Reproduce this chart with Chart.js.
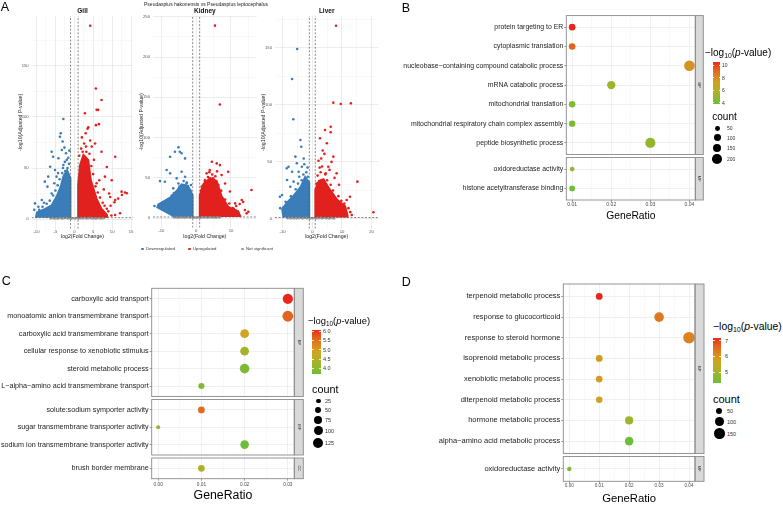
<!DOCTYPE html>
<html><head><meta charset="utf-8">
<script src="https://cdn.jsdelivr.net/npm/chart.js@4/dist/chart.umd.min.js"></script>
<style>
html,body{margin:0;padding:0;background:#fff;}
body{width:783px;height:507px;position:relative;overflow:hidden;font-family:"Liberation Sans",Arial,Helvetica,sans-serif;}
canvas{position:absolute;}
.t{position:absolute;white-space:nowrap;color:#000;}
.t sub{font-size:68%;vertical-align:-0.3em;line-height:0;}
.dot{position:absolute;border-radius:50%;}
</style></head><body>
<script>
// ================= DATA =================
// Panel A: volcano plots (log2 fold change, -log10 adjusted p)
const volcanoTitles = ["Gill", "Kidney", "Liver"];
const superTitle = "Pseudaspius hakonensis vs Pseudaspius leptocephalus";
const legendLabels = ["Downregulated", "Upregulated", "Not significant"];
const fcThreshold = [-1, 1];
const pThreshold = 1.3;

const gillXMajor = [-10, -5, 0, 5, 10, 15], gillXMinor = [-7.5, -2.5, 2.5, 7.5, 12.5];
const gillYMajor = [0, 50, 100, 150], gillYMinor = [25, 75, 125, 175];
const kidXMajor = [-10, 0, 10], kidXMinor = [-5, 5, 15];
const kidYMajor = [0, 50, 100, 150, 200, 250], kidYMinor = [25, 75, 125, 175, 225];
const livXMajor = [-10, 0, 10, 20], livXMinor = [-5, 5, 15];
const livYMajor = [0, 50, 100, 150], livYMinor = [25, 75, 125, 175];

// dense clouds (outline of the solid mass of points)
const gillDownArea = [[-1,1.3],[-1,40],[-1.9,48],[-2.9,42],[-3.6,32],[-4.7,22],[-6,13.5],[-7.75,10],[-9.9,6.5],[-10.2,1.3]];
const gillUpArea = [[1,1.3],[1,34],[1.5,53],[2.4,63],[3.7,58],[4.4,38],[5.9,20],[7.2,10],[8.6,4.5],[8.8,1.3]];
const kidDownArea = [[-1,1.3],[-1,28],[-2.3,40],[-4.2,42],[-5.6,34],[-7.5,25.5],[-10.9,17],[-11.2,13.2],[-6.1,1.3]];
const kidUpArea = [[1,1.3],[1,28],[2,42],[4,50],[5.9,46],[7.3,27.5],[9.2,14],[12.1,8.5],[12.8,1.3]];
const livDownArea = [[-1,1.3],[-1,32],[-2.4,37],[-4,28],[-6.3,20.5],[-8.5,14.5],[-10.2,8.5],[-9.8,2],[-9.8,1.3]];
const livUpArea = [[1,1.3],[1,26],[2.2,33.5],[3.8,35],[5.5,27.5],[8.3,17.2],[11.1,11.2],[11.9,3.5],[11.9,1.3]];

// scattered significant genes
const gillDown = [[-2.9,98],[-3.6,84],[-3.8,80.7],[-3.1,76],[-3.3,67.6],[-6,66],[-5.6,61],[-4.2,59.5],[-6.4,51.3],[-5.1,48],[-7.8,36.6],[-6.9,41.5],[-4.7,41.5],[-2.9,53],[-2.2,64.4],[-10.4,15.3],[-9.5,12],[-8.6,18.6],[-10.6,9],[-7.1,31.7],[-2.5,56],[-1.6,60],[-5.3,35],
  [-1.8,50],[-2.4,47],[-3.2,45],[-3.9,39],[-4.4,33],[-5.0,28],[-5.6,23],[-6.5,18],[-7.3,15],[-8.4,12],[-9.3,9],[-1.4,54],[-2.0,58],[-3.0,50],[-4.3,45],[-2.6,70],[-1.3,67],[-6.0,25],[-8.0,16]];
const gillUp = [[4.2,189.5],[5.7,128],[7.2,116.7],[5.9,107],[2.8,103.6],[5.7,92],[6.5,93],[3.5,88.5],[6.3,107],[3.7,90],[4.2,77],[5.5,74],[10.8,61],[7.2,66],[8.6,51],[9.9,38],[12.5,26.8],[13.9,25.2],[9.5,21.6],[10.8,18.6],[12.1,5.6],[10.8,4],[5.9,35],[8.1,41.5],[6.5,5],[7.5,8],[8.6,10],[9.6,13],[10.6,16.5],[11.6,20],[12.6,23.5],[13.4,26],[3.1,71],[2.2,66],
  [1.3,62],[1.8,69],[2.6,74],[3.2,66],[4.0,64],[4.5,52],[5.0,44],[5.6,32],[6.2,26],[6.8,21],[7.5,16],[8.0,13],[9.0,7.5],[9.8,3.5],[2.0,80],[3.0,84],[4.6,71],[7.8,29],[9.2,25],[6.6,38],[5.2,58]];
const kidDown = [[-5.1,87.8],[-6.1,82.4],[-4.7,82.4],[-4.2,80.4],[-7.5,76.2],[-3.2,74.1],[-8.5,59.6],[-7.5,55.5],[-9,45],[-10.4,45.9],[-5.1,43],[-5.6,49.3],[-4.2,57.6],[-6.6,36.9],[-3.2,51.3],[-13.1,46],[-2.7,44],
  [-1.6,34],[-2.8,43],[-3.6,46],[-4.8,39],[-6.4,31],[-8.5,22],[-9.8,19],[-12.0,15],[-1.5,41],[-3.0,37],[-7.0,28]];
const kidUp = [[5.4,239],[6.8,141],[4.5,70],[5.9,67.9],[6.8,65.8],[3.9,59.6],[3,55.5],[7.3,53.4],[4.9,49.3],[9.2,57.6],[15.9,34.8],[13.1,22.4],[11.2,18.2],[14,9.9],[15,7.9],[8.3,43],[2.5,47.2],[5.4,39],[9.7,32.9],[9.5,10],[10.5,12.5],[11.5,15],[12.5,17.5],[13.5,20],[14.5,5.8],
  [1.4,34],[2.5,45],[3.4,51],[4.6,54],[5.5,52],[6.4,41],[7.2,34],[8.3,23],[9.5,18],[10.8,11.5],[11.7,6],[1.6,39],[3.8,57],[6.0,58]];
const livDown = [[-5.1,148.9],[-6.8,122.6],[-6.4,87.3],[-4,69.2],[-3.7,63.3],[-5.7,54.6],[-5.2,48.8],[-3.5,45.8],[-6.8,41.4],[-4.6,41.4],[-8,45.8],[-10.2,21],[-8.5,34.2],[-6.3,32.7],[-2.9,53],[-7.4,28.3],[-10.9,19.5],[-9.8,10],[-8.6,44.4],
  [-1.5,37],[-2.0,41],[-3.0,39],[-3.6,34],[-4.8,31],[-5.6,26],[-7.2,20],[-9.0,15],[-10.8,9.5],[-1.6,45],[-2.7,48],[-4.4,37]];
const livUp = [[8,169.3],[7.1,101.9],[9.6,100.7],[13,101.3],[4.3,78],[6.2,80.8],[6.2,76],[2.6,70.7],[4.9,66.3],[7.1,54.6],[4.1,57],[15.2,32.7],[20.6,5.9],[12.7,19.5],[11.6,16.6],[10.5,7.9],[13.3,3.5],[5.4,45.8],[8.2,40],[3.5,60],[6.5,50],[2.5,45],[9,30],[4.5,40],
  [1.4,31],[1.8,38],[2.8,41],[3.3,46],[4.4,39],[5.0,34],[6.2,30],[7.0,25],[8.8,20],[9.8,16],[10.8,13.5],[12.2,9.5],[12.8,6],[2.1,51],[3.0,53],[5.8,43],[7.5,36]];

// not significant genes (band near the bottom)
const gillNS = [[-6.3,0.6],[-5.8,0.9],[-5.3,0.4],[-4.8,0.8],[-4.3,0.5],[-3.8,1.0],[-3.3,0.4],[-2.8,0.7],[-2.3,1.1],[-1.8,0.5],[-1.3,0.8],[-0.8,0.3],[-0.3,0.9],[0.2,0.5],[0.7,1.0],[1.2,0.4],[1.7,0.8],[2.2,0.6],[2.7,1.1],[3.2,0.4],[3.7,0.7],[4.2,1.0],[4.7,0.5],[5.2,0.8],[5.7,0.3],[6.2,0.9],[6.7,0.6],[7.2,0.4],[7.8,0.8]];
const kidNS = [[-6.3,0.5],[-5.8,0.9],[-5.3,0.4],[-4.8,0.8],[-4.3,0.6],[-3.8,1.0],[-3.3,0.4],[-2.8,0.8],[-2.3,1.1],[-1.8,0.5],[-1.3,0.9],[-0.8,0.3],[-0.3,0.8],[0.2,0.5],[0.7,1.0],[1.2,0.4],[1.7,0.9],[2.2,0.6],[2.7,1.1],[3.2,0.4],[3.7,0.8],[4.2,1.0],[4.7,0.5],[5.2,0.8],[5.7,0.3],[6.2,0.9],[6.8,0.6]];
const livNS = [[-8.4,0.6],[-7.9,0.9],[-7.3,0.4],[-6.8,0.8],[-6.3,0.5],[-5.8,0.9],[-5.3,0.4],[-4.8,0.8],[-4.3,0.6],[-3.8,1.0],[-3.3,0.4],[-2.8,0.8],[-2.3,1.1],[-1.8,0.5],[-1.3,0.9],[-0.8,0.3],[-0.3,0.8],[0.2,0.5],[0.7,1.0],[1.2,0.4],[1.7,0.9],[2.2,0.6],[2.7,1.1],[3.2,0.4],[3.7,0.8],[4.2,1.0],[4.7,0.5],[5.2,0.8],[5.7,0.3],[6.2,0.9],[6.8,0.6],[7.4,0.4]];

// Panel B
const bTermsBP = ["protein targeting to ER","cytoplasmic translation","nucleobase\u2212containing compound catabolic process","mRNA catabolic process","mitochondrial translation","mitochondrial respiratory chain complex assembly","peptide biosynthetic process"];
const bRatioBP = [0.01,0.01,0.04,0.02,0.01,0.01,0.03];
const bLogPBP = [10.53,9.3,7.8,5.2,4.3,4.2,4.9];
const bCountBP = [95,95,245,150,92,90,225];
const bTermsMF = ["oxidoreductase activity","histone acetyltransferase binding"];
const bRatioMF = [0.01,0.01];
const bLogPMF = [4.7,3.75];
const bCountMF = [48,70];
const bColorTicks = [4,6,8,10];
const bCountBreaks = [50,100,150,200];

// Panel C
const cTermsBP = ["carboxylic acid transport","monoatomic anion transmembrane transport","carboxylic acid transmembrane transport","cellular response to xenobiotic stimulus","steroid metabolic process","L\u2212alpha\u2212amino acid transmembrane transport"];
const cRatioBP = [0.03,0.03,0.02,0.02,0.02,0.01];
const cLogPBP = [6.05,5.6,4.85,4.3,3.85,3.85];
const cCountBP = [129,145,95,95,114,46];
const cTermsMF = ["solute:sodium symporter activity","sugar transmembrane transporter activity","sodium ion transmembrane transporter activity"];
const cRatioMF = [0.01,0.0,0.02];
const cLogPMF = [5.55,4.2,3.68];
const cCountMF = [56,21,91];
const cTermsCC = ["brush border membrane"];
const cRatioCC = [0.01];
const cLogPCC = [4.4];
const cCountCC = [56];
const cColorTicks = [4.0,4.5,5.0,5.5,6.0];
const cCountBreaks = [25,50,75,100,125];

// Panel D
const dTermsBP = ["terpenoid metabolic process","response to glucocorticoid","response to steroid hormone","isoprenoid metabolic process","xenobiotic metabolic process","diterpenoid metabolic process","hormone metabolic process","alpha\u2212amino acid metabolic process"];
const dRatioBP = [0.01,0.03,0.04,0.01,0.01,0.01,0.02,0.02];
const dLogPBP = [7.19,6.4,6.25,5.9,5.85,5.8,4.95,4.3];
const dCountBP = [62,125,184,62,62,58,91,100];
const dTermsMF = ["oxidoreductase activity"];
const dRatioMF = [0.0];
const dLogPMF = [4.6];
const dCountMF = [27];
const dColorTicks = [5,6,7];
const dCountBreaks = [50,100,150];

// ================= STYLE / HELPERS =================
const FONT = '"Liberation Sans", Arial, Helvetica, sans-serif';
Chart.defaults.font.family = FONT;
Chart.defaults.animation = false;
const BLUE = '#3A7DB9', RED = '#E2211F', GREY = '#9A9A9A';
const GRAD = ['#6CBE36', '#CFA420', '#E8261E']; // low, mid, high

function s2l(c){c/=255;return c<=0.04045?c/12.92:Math.pow((c+0.055)/1.055,2.4);}
function l2s(c){c=c<=0.0031308?12.92*c:1.055*Math.pow(c,1/2.4)-0.055;return Math.round(Math.max(0,Math.min(1,c))*255);}
function hex2lab(h){const r=s2l(parseInt(h.substr(1,2),16)),g=s2l(parseInt(h.substr(3,2),16)),b=s2l(parseInt(h.substr(5,2),16));
 const X=(0.4124*r+0.3576*g+0.1805*b)/0.95047,Y=0.2126*r+0.7152*g+0.0722*b,Z=(0.0193*r+0.1192*g+0.9505*b)/1.08883;
 const f=t=>t>0.008856?Math.cbrt(t):7.787*t+16/116;const fx=f(X),fy=f(Y),fz=f(Z);return [116*fy-16,500*(fx-fy),200*(fy-fz)];}
function lab2rgb(L,a,b){const fy=(L+16)/116,fx=fy+a/500,fz=fy-b/200;const fi=t=>t*t*t>0.008856?t*t*t:(t-16/116)/7.787;
 const X=0.95047*fi(fx),Y=fi(fy),Z=1.08883*fi(fz);
 return 'rgb('+l2s(3.2406*X-1.5372*Y-0.4986*Z)+','+l2s(-0.9689*X+1.8758*Y+0.0415*Z)+','+l2s(0.0557*X-0.2040*Y+1.0570*Z)+')';}
const GLAB = GRAD.map(hex2lab);
function colorAt(t){t=Math.max(0,Math.min(1,t));const seg=t<0.5?0:1;const u=(t-seg*0.5)*2;const A=GLAB[seg],B=GLAB[seg+1];
  return lab2rgb(A[0]+(B[0]-A[0])*u,A[1]+(B[1]-A[1])*u,A[2]+(B[2]-A[2])*u);}

function txt(x,y,html,size,align,extra){
  const d=document.createElement('div');d.className='t';
  const k=size<9?0.5:1, fs=size/k;
  d.style.fontSize=fs+'px';d.style.lineHeight=fs+'px';d.style.left=x+'px';d.style.top=y+'px';
  let org='0 50%',tr='translate(0,-50%) scale('+k+')';
  if(align==='c'){org='50% 50%';tr='translate(-50%,-50%) scale('+k+')';}
  if(align==='r'){org='100% 50%';tr='translate(-100%,-50%) scale('+k+')';}
  d.style.transformOrigin=org;d.style.transform=tr;
  if(extra)Object.assign(d.style,extra);
  d.innerHTML=html;document.body.appendChild(d);return d;
}
function dot(cx,cy,r,color){const d=document.createElement('div');d.className='dot';
  d.style.left=(cx-r)+'px';d.style.top=(cy-r)+'px';d.style.width=(2*r)+'px';d.style.height=(2*r)+'px';d.style.background=color;document.body.appendChild(d);}
function mkCanvas(l,t,w,h){const c=document.createElement('canvas');c.width=w;c.height=h;
  c.style.left=l+'px';c.style.top=t+'px';c.style.width=w+'px';c.style.height=h+'px';document.body.appendChild(c);return c;}
const pts=a=>a.map(p=>({x:p[0],y:p[1]}));

// ================= PANEL A =================
function volcano(v){
  const cL=Math.floor(v.plotL-24), cT=4, cB=242, cR=Math.ceil(v.plotR+2);
  const cv=mkCanvas(cL,cT,cR-cL,cB-cT);
  const yW=v.plotL-cL, xH=cB-v.plotB, padR=cR-v.plotR;
  const isMajX=val=>v.xMaj.includes(val), isMajY=val=>v.yMaj.includes(val);
  const line=(data)=>({data, showLine:true, pointRadius:0, borderColor:'#555', borderWidth:0.7, borderDash:[2,1.6], fill:false, order:0});
  new Chart(cv,{type:'scatter',
    data:{datasets:[
      line([{x:fcThreshold[0],y:v.yr[0]},{x:fcThreshold[0],y:v.yr[1]}]),
      line([{x:fcThreshold[1],y:v.yr[0]},{x:fcThreshold[1],y:v.yr[1]}]),
      line([{x:v.xr[0],y:pThreshold},{x:v.xr[1],y:pThreshold}]),
      {data:pts(v.up),pointRadius:1.3,backgroundColor:RED,borderWidth:0,order:1},
      {data:pts(v.down),pointRadius:1.3,backgroundColor:BLUE,borderWidth:0,order:2},
      {data:pts(v.ns),pointRadius:1.2,backgroundColor:GREY,borderWidth:0,order:3},
      {data:pts(v.upArea),showLine:true,fill:'shape',backgroundColor:RED,borderColor:RED,borderWidth:1.8,pointRadius:0,tension:0,order:4},
      {data:pts(v.downArea),showLine:true,fill:'shape',backgroundColor:BLUE,borderColor:BLUE,borderWidth:1.8,pointRadius:0,tension:0,order:4}
    ]},
    options:{responsive:false,animation:false,events:[],
      layout:{padding:{left:0,top:0,right:padR,bottom:0},autoPadding:false},
      plugins:{legend:{display:false},tooltip:{enabled:false},
        title:{display:true,text:v.title,fullSize:false,color:'#111',font:{size:6.5,weight:'bold'},padding:{top:3.1,bottom:1.1}}},
      scales:{
        x:{type:'linear',min:v.xr[0],max:v.xr[1],
          afterBuildTicks(s){s.ticks=v.xMaj.concat(v.xMin).sort((a,b)=>a-b).map(x=>({value:x}));},
          afterFit(s){s.height=xH;s.paddingLeft=0;s.paddingRight=0;},
          ticks:{autoSkip:false,maxRotation:0,minRotation:0,padding:0.6,color:'#555',font:{size:4.2},callback:(val)=>isMajX(val)?String(val):''},
          grid:{drawTicks:false,color:c=>c.tick&&isMajX(c.tick.value)?'#E4E4E4':'#F1F1F1',lineWidth:c=>c.tick&&isMajX(c.tick.value)?0.7:0.5},
          border:{display:false},
          title:{display:true,text:'log2(Fold Change)',color:'#222',font:{size:5.2},padding:{top:0,bottom:1.9}}},
        y:{type:'linear',min:v.yr[0],max:v.yr[1],
          afterBuildTicks(s){s.ticks=v.yMaj.concat(v.yMin).sort((a,b)=>a-b).filter(y=>y<=v.yr[1]).map(y=>({value:y}));},
          afterFit(s){s.width=yW;s.paddingTop=0;s.paddingBottom=0;},
          ticks:{autoSkip:false,padding:3,color:'#555',font:{size:4.2},callback:(val)=>isMajY(val)?String(val):''},
          grid:{drawTicks:false,color:c=>c.tick&&isMajY(c.tick.value)?'#E4E4E4':'#F1F1F1',lineWidth:c=>c.tick&&isMajY(c.tick.value)?0.7:0.5},
          border:{display:false},
          title:{display:true,text:'-log10(Adjusted P-value)',color:'#222',font:{size:5.2},padding:{top:(v.plotL-11)-cL-3.12,bottom:0}}}
      }}});
}
volcano({title:volcanoTitles[0],plotL:31.7,plotR:133.3,plotB:228.7,xr:[-11.27,15.6],yr:[-9.5,199],xMaj:gillXMajor,xMin:gillXMinor,yMaj:gillYMajor,yMin:gillYMinor,down:gillDown,up:gillUp,downArea:gillDownArea,upArea:gillUpArea,ns:gillNS});
volcano({title:volcanoTitles[1],plotL:153,plotR:256.7,plotB:227.7,xr:[-12.41,17.39],yr:[-12,251],xMaj:kidXMajor,xMin:kidXMinor,yMaj:kidYMajor,yMin:kidYMinor,down:kidDown,up:kidUp,downArea:kidDownArea,upArea:kidUpArea,ns:kidNS});
volcano({title:volcanoTitles[2],plotL:275,plotR:378.3,plotB:228.7,xr:[-12.57,22.25],yr:[-8.5,177.8],xMaj:livXMajor,xMin:livXMinor,yMaj:livYMajor,yMin:livYMinor,down:livDown,up:livUp,downArea:livDownArea,upArea:livUpArea,ns:livNS});

txt(205.5,3.8,superTitle,5,'c',{color:'#222'});
[[142.5,BLUE],[189.5,RED],[242.5,GREY]].forEach((m,i)=>{dot(m[0],249,1.3,m[1]);txt(m[0]+3,249,legendLabels[i],4.3,'l',{color:'#333'});});

// ================= PANELS B, C, D =================
function stripPlugin(label,stripW){return {id:'strip',afterDraw(chart){
  const ctx=chart.ctx,a=chart.chartArea;ctx.save();
  ctx.fillStyle='#D9D9D9';ctx.fillRect(a.right,a.top,stripW,a.bottom-a.top);
  ctx.strokeStyle='#8A8A8A';ctx.lineWidth=0.9;ctx.strokeRect(a.right,a.top,stripW,a.bottom-a.top);
  ctx.strokeRect(a.left,a.top,a.right-a.left,a.bottom-a.top);
  ctx.translate(a.right+stripW/2,(a.top+a.bottom)/2);ctx.rotate(Math.PI/2);
  ctx.fillStyle='#333';ctx.font='4px '+FONT;ctx.textAlign='center';ctx.textBaseline='middle';ctx.fillText(label,0,0);
  ctx.restore();}};}

function facet(p,f,isLast){
  const cL=Math.floor(p.x0), cT=Math.floor(f.top)-1, cR=Math.ceil(p.plotR+p.stripW+3);
  const cB=isLast?p.canvasBottom:Math.ceil(f.bottom)+1;
  const cv=mkCanvas(cL,cT,cR-cL,cB-cT);
  const yW=p.plotL-cL, padTop=f.top-cT, padR=cR-p.plotR, xH=cB-f.bottom;
  const n=f.cats.length;
  const data=f.ratio.map((x,i)=>({x,y:i,r:p.k*Math.sqrt(f.count[i])}));
  const cols=f.logp.map(v=>colorAt((v-p.cmin)/(p.cmax-p.cmin)));
  const isMaj=val=>p.xMaj.includes(val);
  new Chart(cv,{type:'bubble',
    data:{datasets:[{data,backgroundColor:cols,borderWidth:0,hoverRadius:0}]},
    options:{responsive:false,animation:false,events:[],
      layout:{padding:{left:0,top:padTop,right:padR,bottom:0},autoPadding:false},
      plugins:{legend:{display:false},tooltip:{enabled:false}},
      scales:{
        x:{type:'linear',min:p.xmin,max:p.xmax,
          afterBuildTicks(s){s.ticks=p.xMaj.concat(p.xMin).sort((a,b)=>a-b).map(x=>({value:x}));},
          afterFit(s){s.height=xH;s.paddingLeft=0;s.paddingRight=0;},
          ticks:{display:isLast,autoSkip:false,maxRotation:0,minRotation:0,padding:p.xPad,color:'#4d4d4d',font:{size:p.xFont},callback:(val)=>isMaj(val)?val.toFixed(2):''},
          grid:{drawTicks:isLast,tickLength:2,tickWidth:0.6,tickColor:c=>c.tick&&isMaj(c.tick.value)?'#555':'rgba(0,0,0,0)',
            color:c=>c.tick&&isMaj(c.tick.value)?'#EAEAEA':'#F3F3F3',lineWidth:c=>c.tick&&isMaj(c.tick.value)?0.7:0.5},
          border:{display:false},
          title:{display:isLast,text:'GeneRatio',color:'#000',font:{size:p.titleFont},padding:{top:0,bottom:p.titlePadB}}},
        y:{type:'linear',min:-0.6,max:n-1+0.6,reverse:true,
          afterBuildTicks(s){s.ticks=f.cats.map((c,i)=>({value:i}));},
          afterFit(s){s.width=yW;s.paddingTop=0;s.paddingBottom=0;},
          ticks:{autoSkip:false,padding:1,color:'#222',font:{size:p.yFont},callback:(val)=>f.cats[val]},
          grid:{color:'#EAEAEA',lineWidth:0.7,tickLength:2,tickWidth:0.6,tickColor:'#555'},
          border:{display:false}}
      }},
    plugins:[stripPlugin(f.strip,p.stripW)]});
}

function legend(p,L){
  txt(L.titleX,L.titleY,'\u2212log<sub>10</sub>(<i>p</i>-value)',L.titleSize,'l');
  const bar=document.createElement('div');bar.style.position='absolute';
  bar.style.left=L.barX+'px';bar.style.top=L.barT+'px';bar.style.width=L.barW+'px';bar.style.height=(L.barB-L.barT)+'px';
  const stops=[];for(let i=0;i<=20;i++)stops.push(colorAt(i/20)+' '+(i*5)+'%');
  bar.style.background='linear-gradient(to top,'+stops.join(',')+')';document.body.appendChild(bar);
  L.ticks.forEach(v=>{const y=L.barB-(v-p.cmin)/(p.cmax-p.cmin)*(L.barB-L.barT);
    [0,L.barW-1.3].forEach(dx=>{const tk=document.createElement('div');tk.style.cssText='position:absolute;height:0.5px;width:1.3px;background:rgba(255,255,255,0.8);left:'+(L.barX+dx)+'px;top:'+(y-0.25)+'px';document.body.appendChild(tk);});
    txt(L.tickX,y,L.fmt(v),L.tickSize,'l',{color:'#333'});});
  txt(L.countX,L.countY,'count',L.countSize,'l');
  L.breaks.forEach((b,i)=>{dot(L.dotX,L.dotY[i],p.k*Math.sqrt(b),'#000');txt(L.labX,L.dotY[i],String(b),L.tickSize,'l',{color:'#333'});});
}
function panel(p,facets,L){
  const all=facets.reduce((a,f)=>a.concat(f.logp),[]);p.cmin=Math.min(...all);p.cmax=Math.max(...all);
  facets.forEach((f,i)=>facet(p,f,i===facets.length-1));legend(p,L);
}

// Panel B
panel({x0:400,plotL:566.3,plotR:695.3,stripW:8,xmin:0.0085,xmax:0.0415,xMaj:[0.01,0.02,0.03,0.04],xMin:[0.015,0.025,0.035],
  yFont:6.9,xFont:5.1,titleFont:10.3,xPad:0,titlePadB:1.8,canvasBottom:224,k:0.34},
  [{cats:bTermsBP,ratio:bRatioBP,logp:bLogPBP,count:bCountBP,strip:'BP',top:15.6,bottom:154.5},
   {cats:bTermsMF,ratio:bRatioMF,logp:bLogPMF,count:bCountMF,strip:'MF',top:157.5,bottom:200}],
  {titleX:705,titleY:53,titleSize:10,barX:712.7,barT:61.7,barB:104.3,barW:7.3,ticks:bColorTicks,fmt:v=>String(v),tickX:722,tickSize:5,
   countX:712.3,countY:117,countSize:10,breaks:bCountBreaks,dotX:717.3,dotY:[128.3,137.7,148.3,159.3],labX:726.7});

// Panel C
panel({x0:0,plotL:151.7,plotR:294.3,stripW:9,xmin:-0.0015,xmax:0.0315,xMaj:[0,0.01,0.02,0.03],xMin:[0.005,0.015,0.025],
  yFont:7.2,xFont:4.8,titleFont:12.3,xPad:0.9,titlePadB:2.9,canvasBottom:506,k:0.45},
  [{cats:cTermsBP,ratio:cRatioBP,logp:cLogPBP,count:cCountBP,strip:'BP',top:288.3,bottom:396.5},
   {cats:cTermsMF,ratio:cRatioMF,logp:cLogPMF,count:cCountMF,strip:'MF',top:399.5,bottom:455},
   {cats:cTermsCC,ratio:cRatioCC,logp:cLogPCC,count:cCountCC,strip:'CC',top:458,bottom:478.7}],
  {titleX:308,titleY:321,titleSize:9.4,barX:312.3,barT:330,barB:374.3,barW:8.4,ticks:cColorTicks,fmt:v=>v.toFixed(1),tickX:323,tickSize:5.5,
   countX:312,countY:389.3,countSize:10.8,breaks:cCountBreaks,dotX:318.3,dotY:[401,410,419.7,430.7,443.3],labX:324.5});

// Panel D
panel({x0:400,plotL:563.3,plotR:695,stripW:9,xmin:-0.002,xmax:0.042,xMaj:[0,0.01,0.02,0.03,0.04],xMin:[0.005,0.015,0.025,0.035],
  yFont:7.5,xFont:4.6,titleFont:11.3,xPad:-0.5,titlePadB:0.9,canvasBottom:507,k:0.43},
  [{cats:dTermsBP,ratio:dRatioBP,logp:dLogPBP,count:dCountBP,strip:'BP',top:284,bottom:453.5},
   {cats:dTermsMF,ratio:dRatioMF,logp:dLogPMF,count:dCountMF,strip:'MF',top:456.5,bottom:481.3}],
  {titleX:713,titleY:326.7,titleSize:10.4,barX:713.3,barT:337.7,barB:383.3,barW:7.4,ticks:dColorTicks,fmt:v=>String(v),tickX:724.5,tickSize:5.5,
   countX:713,countY:399.3,countSize:11,breaks:dCountBreaks,dotX:719.3,dotY:[411,421.7,433.7],labX:727});

// panel letters
txt(0.7,6.9,'A',12.5,'l');txt(401.7,7.5,'B',12.5,'l');txt(1.7,281.2,'C',12.5,'l');txt(401.7,281.7,'D',12.5,'l');
</script>
</body></html>
